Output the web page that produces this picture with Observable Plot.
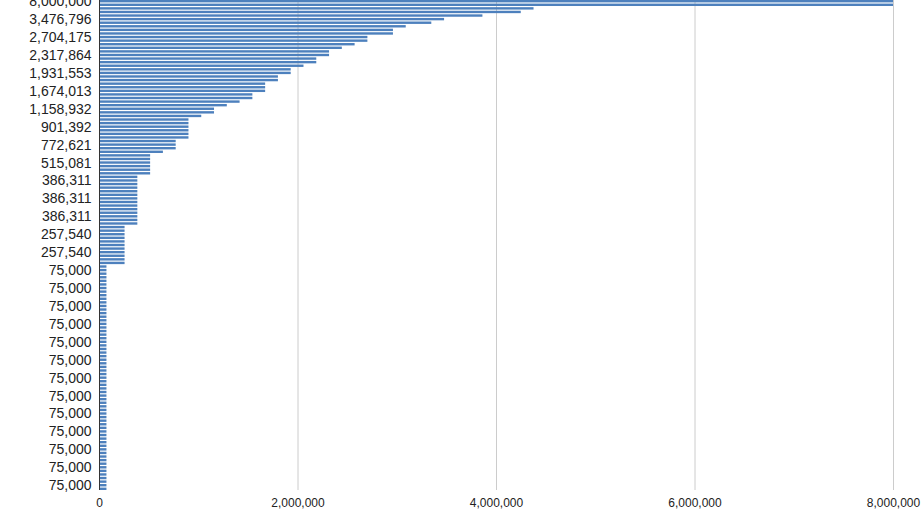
<!DOCTYPE html>
<html>
<head>
<meta charset="utf-8">
<script src="https://cdn.jsdelivr.net/npm/d3@7"></script>
<script src="https://cdn.jsdelivr.net/npm/@observablehq/plot@0.6"></script>
<style>
  html, body { margin: 0; padding: 0; background: #fff; }
  svg { display: block; }
</style>
</head>
<body>
<div id="chart"></div>
<script>
// Bar values, in rank order (top to bottom)
const values = [
  8000000, 8000000, 4378187, 4249417, 3863107, 3476796, 3348026, 3090485, 2961715, 2961715,
  2704175, 2704175, 2575404, 2446634, 2317864, 2317864, 2189094, 2189094, 2060324, 1931553,
  1931553, 1802783, 1802783, 1674013, 1674013, 1674013, 1545243, 1545243, 1416472, 1287702,
  1158932, 1158932, 1030162, 901392, 901392, 901392, 901392, 901392, 901392, 772621,
  772621, 772621, 643851, 515081, 515081, 515081, 515081, 515081, 515081, 386311,
  386311, 386311, 386311, 386311, 386311, 386311, 386311, 386311, 386311, 386311,
  386311, 386311, 386311, 257540, 257540, 257540, 257540, 257540, 257540, 257540,
  257540, 257540, 257540, 257540, 75000, 75000, 75000, 75000, 75000, 75000,
  75000, 75000, 75000, 75000, 75000, 75000, 75000, 75000, 75000, 75000,
  75000, 75000, 75000, 75000, 75000, 75000, 75000, 75000, 75000, 75000,
  75000, 75000, 75000, 75000, 75000, 75000, 75000, 75000, 75000, 75000,
  75000, 75000, 75000, 75000, 75000, 75000, 75000, 75000, 75000, 75000,
  75000, 75000, 75000, 75000, 75000, 75000, 75000, 75000, 75000, 75000,
  75000, 75000, 75000, 75000, 75000, 75000, 75000
];
// Category positions (ranks)
const ranks = values.map((v, i) => i);
// Ranks whose value is shown as a y tick label (every 5th)
const yTickRanks = ranks.filter(i => i % 5 === 0);
// X axis ticks
const xTicks = [0, 2000000, 4000000, 6000000, 8000000];

const fmt = d3.format(",");
const font = "Arial, 'Liberation Sans', sans-serif";

const chart = Plot.plot({
  width: 922,
  height: 509,
  marginLeft: 99,
  marginRight: 29,
  marginTop: 0,
  marginBottom: 19,
  style: { fontFamily: font, background: "#fff", overflow: "visible" },
  x: { domain: [0, 8000000] },
  y: { domain: ranks, paddingInner: 0.33, paddingOuter: 0 },
  marks: [
    Plot.gridX(xTicks.slice(1), { stroke: "#cccccc", strokeOpacity: 1, strokeWidth: 1 }),
    Plot.barX(values, { x: d => d, y: (d, i) => i, fill: "#4d80bd" }),
    Plot.ruleX([0], { stroke: "#333333", strokeWidth: 1 }),
    Plot.axisY(yTickRanks, {
      tickSize: 0, tickPadding: 8, fontSize: 14, fill: "#222",
      tickFormat: i => fmt(values[i])
    }),
    Plot.axisX(xTicks, {
      tickSize: 0, tickPadding: 8, fontSize: 12, fill: "#222",
      tickFormat: fmt
    })
  ]
});
document.getElementById("chart").appendChild(chart);
</script>
</body>
</html>
